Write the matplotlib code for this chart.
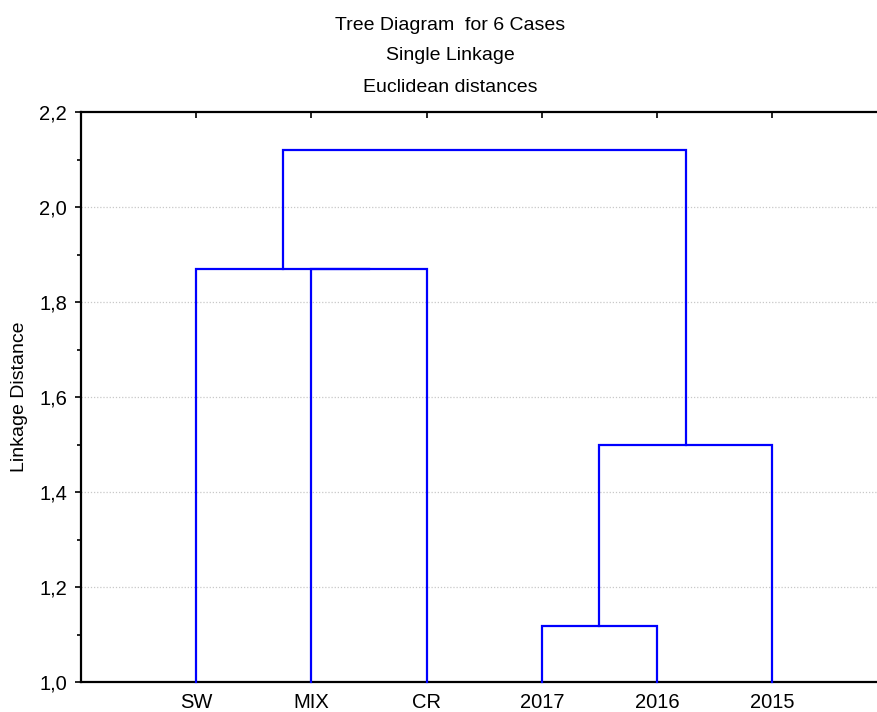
import numpy as np
import matplotlib
matplotlib.use("Agg")
import matplotlib.pyplot as plt
from matplotlib.ticker import FuncFormatter, MultipleLocator

plt.rcParams["font.family"] = ["Liberation Sans", "DejaVu Sans"]

# leaves in plotting order
leaf_labels = ["SW", "MIX", "CR", "2017", "2016", "2015"]
# merges: (left node, right node, linkage distance); new clusters get ids 6, 7, ...
merge_left = [1, 0, 3, 8, 7]
merge_right = [2, 6, 4, 5, 9]
merge_height = [1.87, 1.87, 1.118, 1.50, 2.12]

title_lines = ["Tree Diagram  for 6 Cases", "Single Linkage", "Euclidean distances"]

W, H = 877, 712
fig = plt.figure(figsize=(W / 100, H / 100), dpi=100)
ax = fig.add_axes([81 / W, 1 - 682 / H, 1 - 81 / W, (682 - 112) / H])

node_x = {i: float(i + 1) for i in range(len(leaf_labels))}
node_h = {i: 1.0 for i in range(len(leaf_labels))}
blue = "#0000ff"
for k, (a, b, h) in enumerate(zip(merge_left, merge_right, merge_height)):
    xa, xb = node_x[a], node_x[b]
    ax.plot([xa, xa, xb, xb], [node_h[a], h, h, node_h[b]], color=blue,
            linewidth=1.6, solid_joinstyle="miter", zorder=3, clip_on=False)
    nid = len(leaf_labels) + k
    node_x[nid] = (xa + xb) / 2
    node_h[nid] = h

ax.set_xlim(0, (W - 81) / 115.2)
ax.set_ylim(1.0, 2.2)

ax.set_xticks(np.arange(1, len(leaf_labels) + 1))
ax.set_xticklabels(leaf_labels, fontsize=14.5)
ax.tick_params(axis="x", bottom=False, top=True, direction="in", length=4,
               width=1.2, pad=8)

ax.yaxis.set_major_locator(MultipleLocator(0.2))
ax.yaxis.set_minor_locator(MultipleLocator(0.1))
ax.yaxis.set_major_formatter(FuncFormatter(lambda v, p: f"{v:.1f}".replace(".", ",")))
ax.tick_params(axis="y", which="major", direction="out", length=4, width=1.2,
               labelsize=14.5, pad=6)
ax.tick_params(axis="y", which="minor", direction="out", length=3, width=1.2)

for yv in np.arange(1.2, 2.1, 0.2):
    ax.axhline(yv, color="#c8c8c8", linestyle=(0, (1, 1.5)), linewidth=0.9, zorder=1)

ax.spines["right"].set_visible(False)
for s in ("left", "bottom", "top"):
    ax.spines[s].set_linewidth(1.6)
    ax.spines[s].set_color("black")

for line, yp in zip(title_lines, [25, 55, 87]):
    fig.text(450 / W, 1 - yp / H, line, ha="center", va="center", fontsize=14)

fig.text(20 / W, 1 - 397 / H, "Linkage Distance", rotation=90, ha="center",
         va="center", fontsize=14)

fig.savefig("out.png", dpi=100)
